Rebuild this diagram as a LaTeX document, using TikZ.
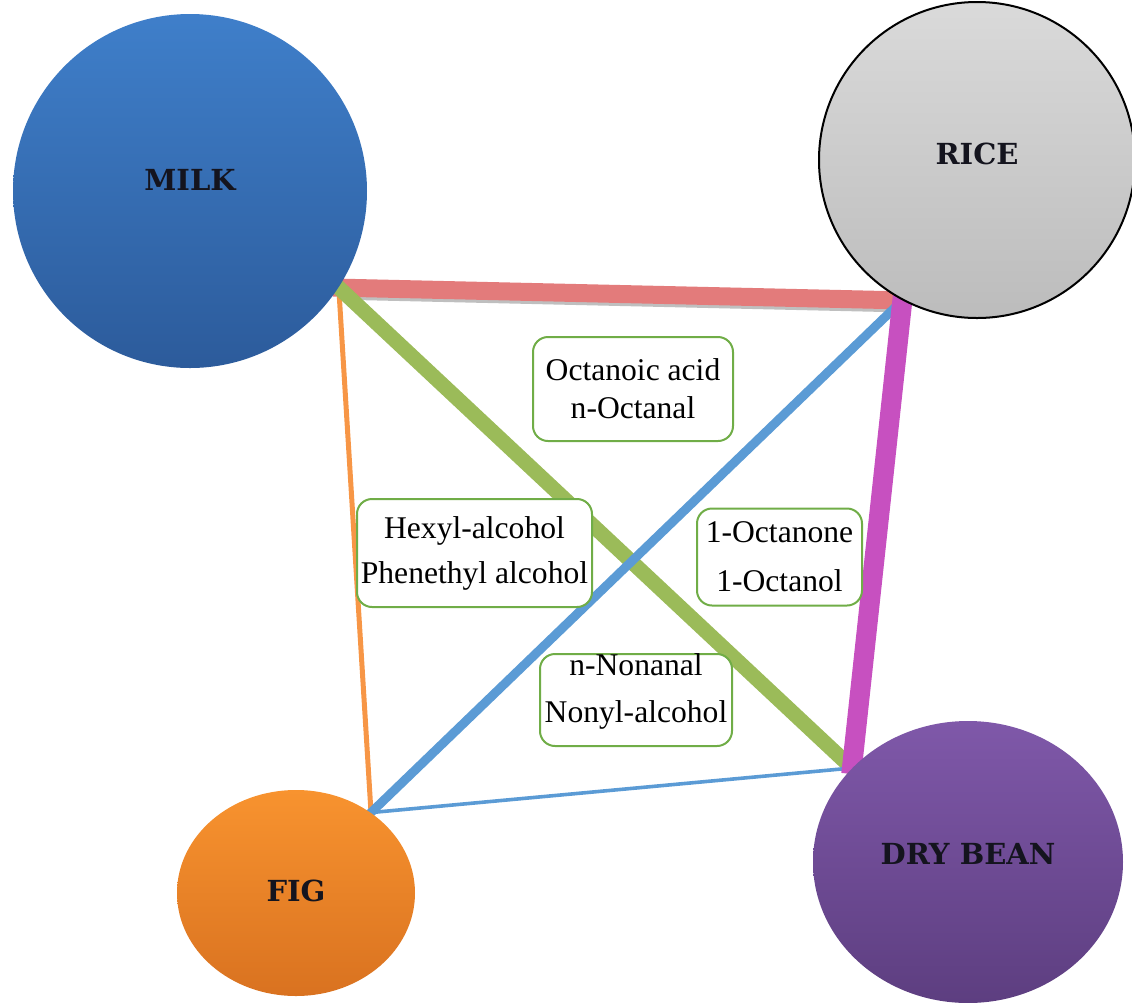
\documentclass[tikz,border=0pt]{standalone}
\usepackage{fontspec}
\setmainfont{Liberation Serif}
\newfontfamily\foodfont{DejaVu Serif}
\usetikzlibrary{shapes.geometric,backgrounds}

\definecolor{milktop}{HTML}{3F7FCA}
\definecolor{milkbot}{HTML}{2C5B9B}
\definecolor{ricetop}{HTML}{DADADA}
\definecolor{ricebot}{HTML}{BCBCBC}
\definecolor{figtop}{HTML}{F8932F}
\definecolor{figbot}{HTML}{D97220}
\definecolor{beantop}{HTML}{7F58A9}
\definecolor{beanbot}{HTML}{5D3E80}
\definecolor{foodtext}{HTML}{14141E}
\definecolor{linkred}{HTML}{E37B7B}
\definecolor{linkgreen}{HTML}{9BBB59}
\definecolor{linkpink}{HTML}{C750C0}
\definecolor{linkblue}{HTML}{5B9BD5}
\definecolor{linkorange}{HTML}{F79646}
\definecolor{boxgreen}{HTML}{70AD47}

\tikzset{
  food/.style={inner sep=0pt, text=foodtext,
    font=\foodfont\bfseries\fontsize{14.5}{17}\selectfont},
  chem/.style={draw=boxgreen, line width=1pt, rounded corners=7.5pt,
    fill=white, inner sep=0pt, align=center,
    font=\fontsize{15.8}{19}\selectfont},
  chemtext/.style={inner sep=0pt, align=center,
    font=\fontsize{15.8}{19}\selectfont},
}

\begin{document}
\begin{tikzpicture}[x=0.5pt, y=-0.5pt]
  \useasboundingbox (0,0) rectangle (1132,1003);
  % circles
  \node[food, circle, minimum size=177pt, top color=milktop, bottom color=milkbot,
        label={[food, yshift=5.5pt]center:MILK}] (milk) at (190,191) {};
  \node[food, circle, minimum size=158pt, draw=black, line width=1pt,
        top color=ricetop, bottom color=ricebot,
        label={[food, yshift=3pt]center:RICE}] (rice) at (977,160) {};
  \node[food, ellipse, minimum width=119pt, minimum height=103pt,
        top color=figtop, bottom color=figbot,
        label={[food, yshift=1pt]center:FIG}] (fig) at (296,893) {};
  \node[food, ellipse, minimum width=155pt, minimum height=141pt,
        top color=beantop, bottom color=beanbot,
        label={[food, yshift=4pt]center:DRY BEAN}] (bean) at (968,862) {};
  % links
  \begin{scope}[on background layer]
    \draw[black!25, line width=9pt, transform canvas={yshift=-1.5pt}]
      (milk.-33) -- (rice.-118);
    \foreach \a/\b/\c/\w in {milk.-33/rice.-118/linkred/9pt,
                             milk.-33/fig.47/linkorange/2.5pt,
                             milk.-33/bean.141/linkgreen/7.5pt,
                             fig.47/bean.141/linkblue/1.8pt,
                             fig.47/rice.-118/linkblue/4.5pt,
                             rice.-118/bean.141/linkpink/10pt}
      \draw[\c, line width=\w, shorten <=-3pt, shorten >=-3pt] (\a) -- (\b);
  \end{scope}
  % compounds
  \node[chem, minimum width=100pt, minimum height=52pt] (octbox) at (633,389)
    {Octanoic acid\\n-Octanal};
  \node[chem, minimum width=117.5pt, minimum height=54pt] (hexbox) at (474.5,553)
    {Hexyl-alcohol\\[3.5pt]Phenethyl alcohol};
  \node[chem, minimum width=82.5pt, minimum height=48.5pt] (onebox) at (779.5,557)
    {1-Octanone\\[5.5pt]1-Octanol};
  \node[chem, minimum width=96pt, minimum height=46pt,
        label={[chemtext, yshift=4.5pt]center:n-Nonanal\\[4.5pt]Nonyl-alcohol}]
    (nonbox) at (636,700) {};
\end{tikzpicture}
\end{document}
